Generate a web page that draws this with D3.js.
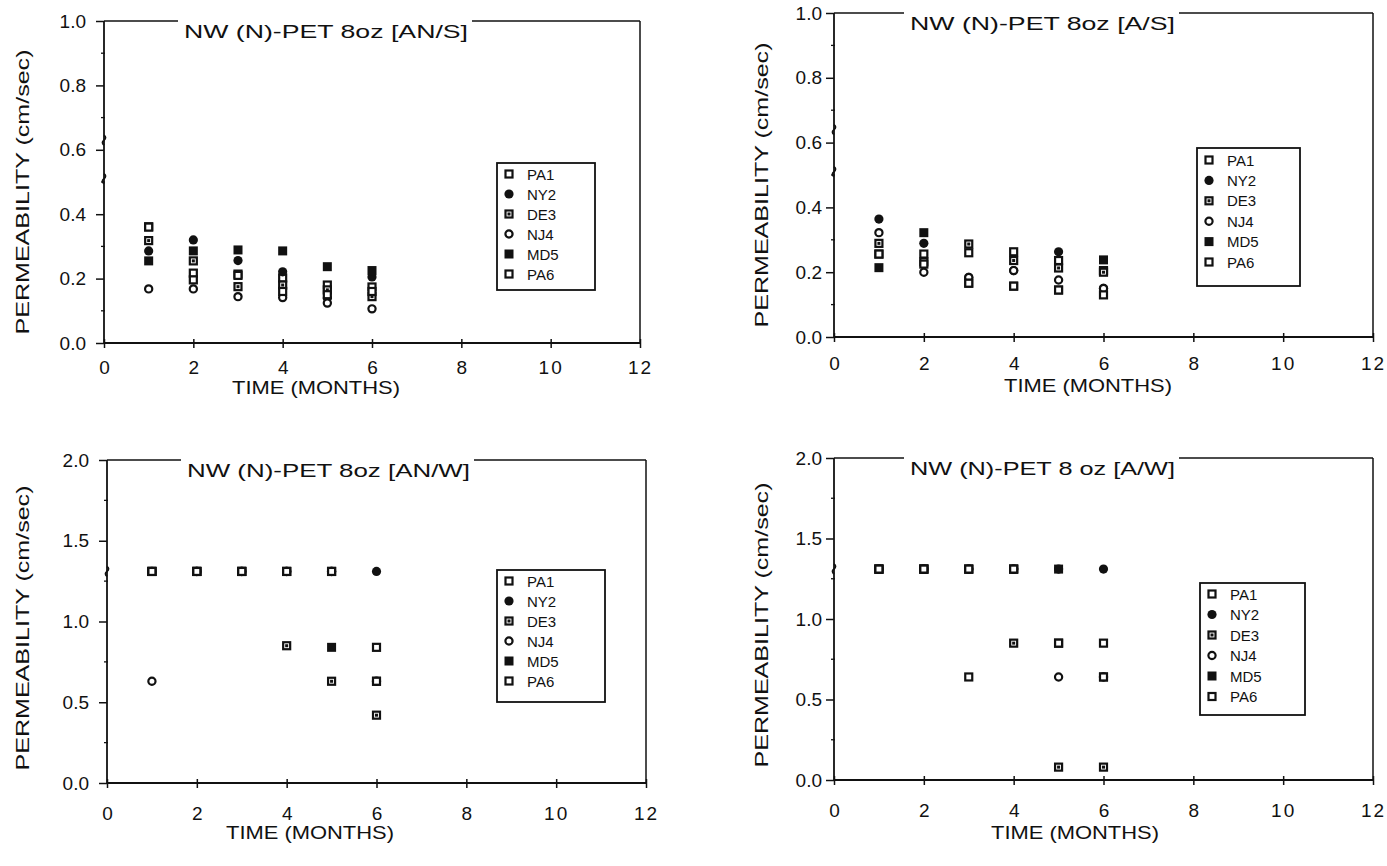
<!DOCTYPE html>
<html><head><meta charset="utf-8">
<script src="https://cdn.jsdelivr.net/npm/d3@7"></script>
<style>
html,body{margin:0;padding:0;background:#fff;}
svg{display:block;}
text{font-family:"Liberation Sans",Arial,Helvetica,sans-serif;fill:#111;}
</style></head>
<body><svg id="c" width="1387" height="866"></svg>
<script>
// ---------- DATA ----------
const months = [1, 2, 3, 4, 5, 6];
const seriesNames = ["PA1", "NY2", "DE3", "NJ4", "MD5", "PA6"];
const seriesSymbols = ["square", "dot", "squareDot", "circle", "filledSquare", "square"];
const xTicks = [0, 2, 4, 6, 8, 10, 12];
const yTicksS = ["0.0", "0.2", "0.4", "0.6", "0.8", "1.0"];
const yTicksW = ["0.0", "0.5", "1.0", "1.5", "2.0"];
const titles = ["NW (N)-PET  8oz  [AN/S]", "NW (N)-PET  8oz  [A/S]", "NW (N)-PET  8oz  [AN/W]", "NW (N)-PET  8 oz  [A/W]"];
const yLabel = "PERMEABILITY  (cm/sec)";
const xLabel = "TIME  (MONTHS)";

// rows: PA1, NY2, DE3, NJ4, MD5, PA6 ; columns: months 1..6
const valuesANS = [
  [0.361, 0.217, 0.214, 0.202, 0.180, 0.174],
  [0.286, 0.320, 0.256, 0.221, 0.140, 0.205],
  [0.318, 0.255, 0.175, 0.180, 0.165, 0.144],
  [0.168, 0.168, 0.144, 0.141, 0.124, 0.106],
  [0.255, 0.286, 0.289, 0.286, 0.237, 0.225],
  [0.360, 0.196, 0.210, 0.160, 0.150, 0.160]
];
const valuesAS = [
  [0.256, 0.256, 0.260, 0.263, 0.236, 0.205],
  [0.364, 0.289, 0.184, 0.205, 0.263, 0.150],
  [0.289, 0.232, 0.287, 0.236, 0.213, 0.200],
  [0.322, 0.200, 0.184, 0.205, 0.176, 0.150],
  [0.214, 0.322, 0.166, 0.157, 0.145, 0.238],
  [0.256, 0.225, 0.166, 0.157, 0.145, 0.130]
];
const valuesANW = [
  [1.31, 1.31, 1.31, 1.31, 1.31, 0.84],
  [1.31, 1.31, 1.31, 1.31, 1.31, 1.31],
  [1.31, 1.31, 1.31, 0.85, 0.63, 0.42],
  [0.63, 1.31, 1.31, 1.31, 1.31, 0.63],
  [1.31, 1.31, 1.31, 1.31, 0.84, 0.63],
  [1.31, 1.31, 1.31, 1.31, 1.31, 0.63]
];
const valuesAW = [
  [1.31, 1.31, 0.64, 1.31, 0.85, 0.85],
  [1.31, 1.31, 1.31, 1.31, 1.31, 1.31],
  [1.31, 1.31, 1.31, 0.85, 0.08, 0.08],
  [1.31, 1.31, 1.31, 1.31, 0.64, 0.64],
  [1.31, 1.31, 1.31, 1.31, 1.31, 0.64],
  [1.31, 1.31, 1.31, 1.31, 0.85, 0.64]
];

// ---------- LAYOUT ----------
const panels = [
  {vals: valuesANS, yt: yTicksS, ymax: 1.0, minor: 0.1, x0: 104, x1: 640, yT: 21, yB: 343, tx0: 184, tx1: 468, lab: 18,
   ylx: 29, ylc: 192, xlx: 316, xly: 394, xty: 375, brk: [0.63, 0.51], leg: {x: 497, y: 163, w: 98, h: 127, r0: 174, dr: 20}},
  {vals: valuesAS, yt: yTicksS, ymax: 1.0, minor: 0.1, x0: 834, x1: 1373, yT: 13, yB: 337, tx0: 910, tx1: 1175, lab: 12,
   ylx: 768, ylc: 185, xlx: 1088, xly: 392, xty: 371, brk: [0.64, 0.51], leg: {x: 1197, y: 148, w: 103, h: 138, r0: 160, dr: 20.4}},
  {vals: valuesANW, yt: yTicksW, ymax: 2.0, minor: 0.25, x0: 107, x1: 646, yT: 460, yB: 783, tx0: 187, tx1: 470, lab: 18,
   ylx: 29, ylc: 628, xlx: 310, xly: 839, xty: 821, brk: [1.31], leg: {x: 497, y: 570, w: 108, h: 132, r0: 581, dr: 20}},
  {vals: valuesAW, yt: yTicksW, ymax: 2.0, minor: 0.25, x0: 834, x1: 1373, yT: 458, yB: 780, tx0: 910, tx1: 1175, lab: 12,
   ylx: 768, ylc: 625, xlx: 1075, xly: 839, xty: 818, brk: [1.31], leg: {x: 1200, y: 583, w: 105, h: 132, r0: 594, dr: 20.5}}
];

const svg = d3.select("#c");
const INK = "#111";

function drawSymbol(g, type, cx, cy) {
  const s = 9;
  if (type === "square") {
    g.append("rect").attr("x", cx - s/2 + 1).attr("y", cy - s/2 + 1).attr("width", s - 2).attr("height", s - 2)
      .attr("fill", "#fff").attr("stroke", INK).attr("stroke-width", 2.2);
  } else if (type === "squareDot") {
    g.append("rect").attr("x", cx - s/2 + 1).attr("y", cy - s/2 + 1).attr("width", s - 2).attr("height", s - 2)
      .attr("fill", "#fff").attr("stroke", INK).attr("stroke-width", 2.2);
    g.append("rect").attr("x", cx - 1.5).attr("y", cy - 1.5).attr("width", 3).attr("height", 3).attr("fill", INK);
  } else if (type === "filledSquare") {
    g.append("rect").attr("x", cx - s/2).attr("y", cy - s/2).attr("width", s).attr("height", s).attr("fill", INK);
  } else if (type === "dot") {
    g.append("circle").attr("cx", cx).attr("cy", cy).attr("r", 4.6).attr("fill", INK);
  } else if (type === "circle") {
    g.append("circle").attr("cx", cx).attr("cy", cy).attr("r", 3.6).attr("fill", "#fff").attr("stroke", INK).attr("stroke-width", 2.2);
  }
}

panels.forEach((p, pi) => {
  const g = svg.append("g");
  const x = d3.scaleLinear().domain([0, 12]).range([p.x0, p.x1]);
  const y = d3.scaleLinear().domain([0, p.ymax]).range([p.yB, p.yT]);

  const line = (x1, y1, x2, y2, w) => g.append("line").attr("x1", x1).attr("y1", y1).attr("x2", x2).attr("y2", y2)
    .attr("stroke", INK).attr("stroke-width", w || 1.8);
  line(x(0), y(p.ymax), x(0), y(0));
  line(x(0), y(0), x(12), y(0), 2);
  line(x(12), y(p.ymax), x(12), y(0), 1.5);
  line(x(0), y(p.ymax), p.tx0 - 6, y(p.ymax), 1.5);
  line(p.tx1 + 4, y(p.ymax), x(12), y(p.ymax), 1.5);

  // small axis-break jogs on the left axis
  p.brk.forEach(v => {
    const yy = y(v);
    g.append("path").attr("d", `M${x(0)},${yy - 5} q3,2 0,5 q-3,2 0,5`)
      .attr("fill", "none").attr("stroke", INK).attr("stroke-width", 1.8);
  });

  // y ticks (major + minor)
  const yAxis = d3.axisLeft(y).tickValues(p.yt.map(Number)).tickFormat((d, i) => p.yt[i]).tickSize(8).tickPadding(p.lab - 8);
  const ya = g.append("g").attr("transform", `translate(${x(0)},0)`).call(yAxis);
  ya.select(".domain").remove();
  ya.selectAll("line").attr("stroke", INK).attr("stroke-width", 1.5);
  ya.selectAll("text").attr("font-size", 19).attr("fill", INK).style("font-family", '"Liberation Sans",Arial,sans-serif');
  const minors = d3.range(0, p.ymax + 1e-9, p.minor).filter(v => !p.yt.map(Number).some(t => Math.abs(t - v) < 1e-6));
  minors.forEach(v => line(x(0) - 3, y(v), x(0) + 1, y(v), 1.3));

  // x ticks
  const xAxis = d3.axisBottom(x).tickValues(xTicks).tickFormat(d3.format("d")).tickSize(5).tickPadding(p.xty - y(0) - 19);
  const xa = g.append("g").attr("transform", `translate(0,${y(0)})`).call(xAxis);
  xa.select(".domain").remove();
  xa.selectAll("line").attr("stroke", INK).attr("stroke-width", 1.5).attr("y1", -4);
  xa.selectAll("text").attr("font-size", 19).attr("fill", INK).style("font-family", '"Liberation Sans",Arial,sans-serif')
    .attr("letter-spacing", d => d >= 10 ? 2 : 0);

  // title
  g.append("text").attr("x", p.tx0).attr("y", y(p.ymax) + 17).attr("font-size", 19)
    .attr("textLength", p.tx1 - p.tx0).attr("lengthAdjust", "spacingAndGlyphs").text(titles[pi]);

  // axis labels
  g.append("text").attr("transform", `translate(${p.ylx},${p.ylc}) rotate(-90)`).attr("text-anchor", "middle")
    .attr("font-size", 19).attr("textLength", 285).attr("lengthAdjust", "spacingAndGlyphs").text(yLabel);
  g.append("text").attr("x", p.xlx).attr("y", p.xly).attr("text-anchor", "middle")
    .attr("font-size", 19).attr("textLength", 168).attr("lengthAdjust", "spacingAndGlyphs").text(xLabel);

  // data points
  const pts = g.append("g");
  p.vals.forEach((row, si) => {
    row.forEach((v, mi) => {
      if (v == null) return;
      drawSymbol(pts, seriesSymbols[si], x(months[mi]), y(v));
    });
  });

  // legend
  const L = p.leg;
  g.append("rect").attr("x", L.x).attr("y", L.y).attr("width", L.w).attr("height", L.h)
    .attr("fill", "#fff").attr("stroke", INK).attr("stroke-width", 1.8);
  seriesNames.forEach((nm, si) => {
    const cy = L.r0 + si * L.dr;
    drawSymbol(g, seriesSymbols[si], L.x + 12, cy);
    g.append("text").attr("x", L.x + 30).attr("y", cy + 5.5).attr("font-size", 15).text(nm);
  });
});
</script></body></html>
